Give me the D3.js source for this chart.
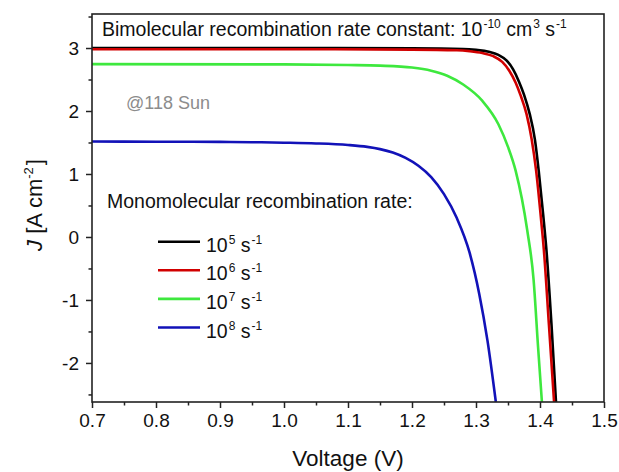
<!DOCTYPE html>
<html>
<head>
<meta charset="utf-8">
<script src="https://cdn.jsdelivr.net/npm/d3@7"></script>
<style>
  body { margin: 0; background: #fff; }
  text { font-family: "Liberation Sans", Arial, sans-serif; }
</style>
</head>
<body>
<div id="container"></div>
<script>
/* DATA */
const seriesNames = ["1e5", "1e6", "1e7", "1e8"];
const legendExponents = ["5", "6", "7", "8"];
const seriesColors = ["#000000", "#d10000", "#3ee83e", "#1212b8"];

// voltage (V) and current density (A cm^-2)
const v1e5 = [0.70, 1.00, 1.20, 1.28, 1.30, 1.32, 1.335, 1.348, 1.358, 1.367, 1.375, 1.384, 1.392, 1.398, 1.405, 1.41, 1.418, 1.425];
const j1e5 = [3.00, 3.00, 2.995, 2.985, 2.97, 2.94, 2.89, 2.80, 2.66, 2.47, 2.26, 1.95, 1.55, 1.05, 0.35, -0.2, -1.4, -2.62];

const v1e6 = [0.70, 1.00, 1.20, 1.27, 1.29, 1.31, 1.327, 1.341, 1.352, 1.362, 1.37, 1.379, 1.387, 1.394, 1.401, 1.406, 1.414, 1.422];
const j1e6 = [2.98, 2.98, 2.975, 2.965, 2.95, 2.92, 2.87, 2.78, 2.64, 2.45, 2.24, 1.95, 1.55, 1.05, 0.35, -0.2, -1.4, -2.62];

const v1e7 = [0.70, 1.00, 1.10, 1.15, 1.20, 1.23, 1.255, 1.28, 1.31, 1.335, 1.35, 1.362, 1.38, 1.39, 1.397, 1.403];
const j1e7 = [2.745, 2.74, 2.73, 2.72, 2.69, 2.64, 2.56, 2.42, 2.16, 1.79, 1.43, 1.05, 0.11, -0.68, -1.75, -2.62];

const v1e8 = [0.70, 0.80, 0.90, 0.95, 1.00, 1.05, 1.10, 1.13, 1.15, 1.17, 1.19, 1.21, 1.23, 1.25, 1.27, 1.29, 1.305, 1.318, 1.331];
const j1e8 = [1.515, 1.513, 1.51, 1.505, 1.497, 1.485, 1.46, 1.43, 1.395, 1.34, 1.255, 1.13, 0.95, 0.68, 0.30, -0.25, -0.90, -1.65, -2.62];

const xTicks = [0.7, 0.8, 0.9, 1.0, 1.1, 1.2, 1.3, 1.4, 1.5];
const xMinor = [0.75, 0.85, 0.95, 1.05, 1.15, 1.25, 1.35, 1.45];
const yTicks = [-2, -1, 0, 1, 2, 3];
const yMinor = [-2.5, -1.5, -0.5, 0.5, 1.5, 2.5, 3.5];

/* CONSTANTS AND GLOBALS */
const W = 619, H = 472;
const margin = {top: 14, right: 15, bottom: 70, left: 92};
const width = W - margin.left - margin.right;
const height = H - margin.top - margin.bottom;
const axisColor = "#222";

const svg = d3.select("#container")
  .append("svg")
    .attr("width", W)
    .attr("height", H);

const g = svg.append("g")
    .attr("transform", `translate(${margin.left},${margin.top})`);

const x = d3.scaleLinear().domain([0.7, 1.5]).range([0, width]);
const y = d3.scaleLinear().domain([-2.62, 3.54]).range([height, 0]);

/* CURVES */
const vs = [v1e5, v1e6, v1e7, v1e8];
const js = [j1e5, j1e6, j1e7, j1e8];
const series = seriesNames.map((name, i) => ({
  name, color: seriesColors[i],
  values: vs[i].map((v, k) => ({v, j: js[i][k]}))
}));

g.append("clipPath").attr("id", "clip")
  .append("rect").attr("width", width).attr("height", height);

const line = d3.line()
  .x(d => x(d.v))
  .y(d => y(d.j))
  .curve(d3.curveMonotoneX);

// black first so red sits on top of it
g.append("g").attr("clip-path", "url(#clip)")
  .selectAll("path")
  .data(series)
  .join("path")
    .attr("fill", "none")
    .attr("stroke", d => d.color)
    .attr("stroke-width", 2.6)
    .attr("d", d => line(d.values));

/* AXES */
g.append("g")
  .attr("transform", `translate(0,${height})`)
  .call(d3.axisBottom(x).tickValues(xTicks).tickSize(6).tickPadding(6).tickFormat(d3.format(".1f")));
g.append("g")
  .attr("transform", `translate(0,${height})`)
  .call(d3.axisBottom(x).tickValues(xMinor).tickSize(3.5).tickFormat(""));

const yAxis = g.append("g")
  .call(d3.axisLeft(y).tickValues(yTicks).tickSize(6).tickPadding(7).tickFormat(d3.format("d")));
g.append("g")
  .call(d3.axisLeft(y).tickValues(yMinor).tickSize(3.5).tickFormat(""));

g.selectAll(".domain").remove();
g.selectAll(".tick line").attr("stroke", axisColor).attr("stroke-width", 1.5);
g.selectAll(".tick text")
  .attr("fill", "#111")
  .style("font-size", "19px")
  .style("font-family", "'Liberation Sans', Arial, sans-serif");
// plain hyphen for negatives, like the original
yAxis.selectAll(".tick text").text(d => String(d));

// frame
g.append("rect")
  .attr("width", width)
  .attr("height", height)
  .attr("fill", "none")
  .attr("stroke", axisColor)
  .attr("stroke-width", 1.6);

/* AXIS TITLES */
svg.append("text")
  .attr("x", margin.left + width / 2)
  .attr("y", 466)
  .attr("text-anchor", "middle")
  .style("font-size", "22.5px")
  .attr("fill", "#111")
  .text("Voltage (V)");

const yl = svg.append("text")
  .attr("transform", "translate(42,205) rotate(-90)")
  .attr("text-anchor", "middle")
  .style("font-size", "22px")
  .attr("fill", "#111");
yl.append("tspan").style("font-style", "italic").text("J");
yl.append("tspan").text(" [A cm");
yl.append("tspan").attr("dy", -9).style("font-size", "13px").text("-2");
yl.append("tspan").attr("dy", 9).attr("dx", 2).text("]");

/* ANNOTATIONS */
function supText(sel, parts) {
  // parts: [text, isSup]
  let up = false;
  parts.forEach(([t, sup]) => {
    const ts = sel.append("tspan").text(t);
    if (sup) {
      ts.style("font-size", "12px").attr("dx", 1);
      if (!up) { ts.attr("dy", -8); up = true; }
    } else if (up) {
      ts.attr("dy", 8); up = false;
    }
  });
}

const title = svg.append("text")
  .attr("x", 102).attr("y", 36)
  .style("font-size", "19.5px").attr("fill", "#111");
supText(title, [["Bimolecular recombination rate constant: 10", false], ["-10", true],
  [" cm", false], ["3", true], [" s", false], ["-1", true]]);

svg.append("text")
  .attr("x", 126).attr("y", 109)
  .style("font-size", "18px")
  .attr("fill", "#8c8c8c")
  .text("@118 Sun");

svg.append("text")
  .attr("x", 107).attr("y", 208)
  .style("font-size", "19.5px").attr("fill", "#111")
  .text("Monomolecular recombination rate:");

/* LEGEND */
const legend = svg.append("g")
  .selectAll("g")
  .data(series)
  .join("g")
    .attr("transform", (d, i) => `translate(158,${241.7 + i * 28.6})`);

legend.append("line")
  .attr("x1", 0).attr("x2", 42)
  .attr("stroke", d => d.color)
  .attr("stroke-width", 2.6);

legend.each(function(d, i) {
  const t = d3.select(this).append("text")
    .attr("x", 48).attr("y", 10)
    .style("font-size", "19.5px").attr("fill", "#111");
  supText(t, [["10", false], [legendExponents[i], true], [" s", false], ["-1", true]]);
});
</script>
</body>
</html>
